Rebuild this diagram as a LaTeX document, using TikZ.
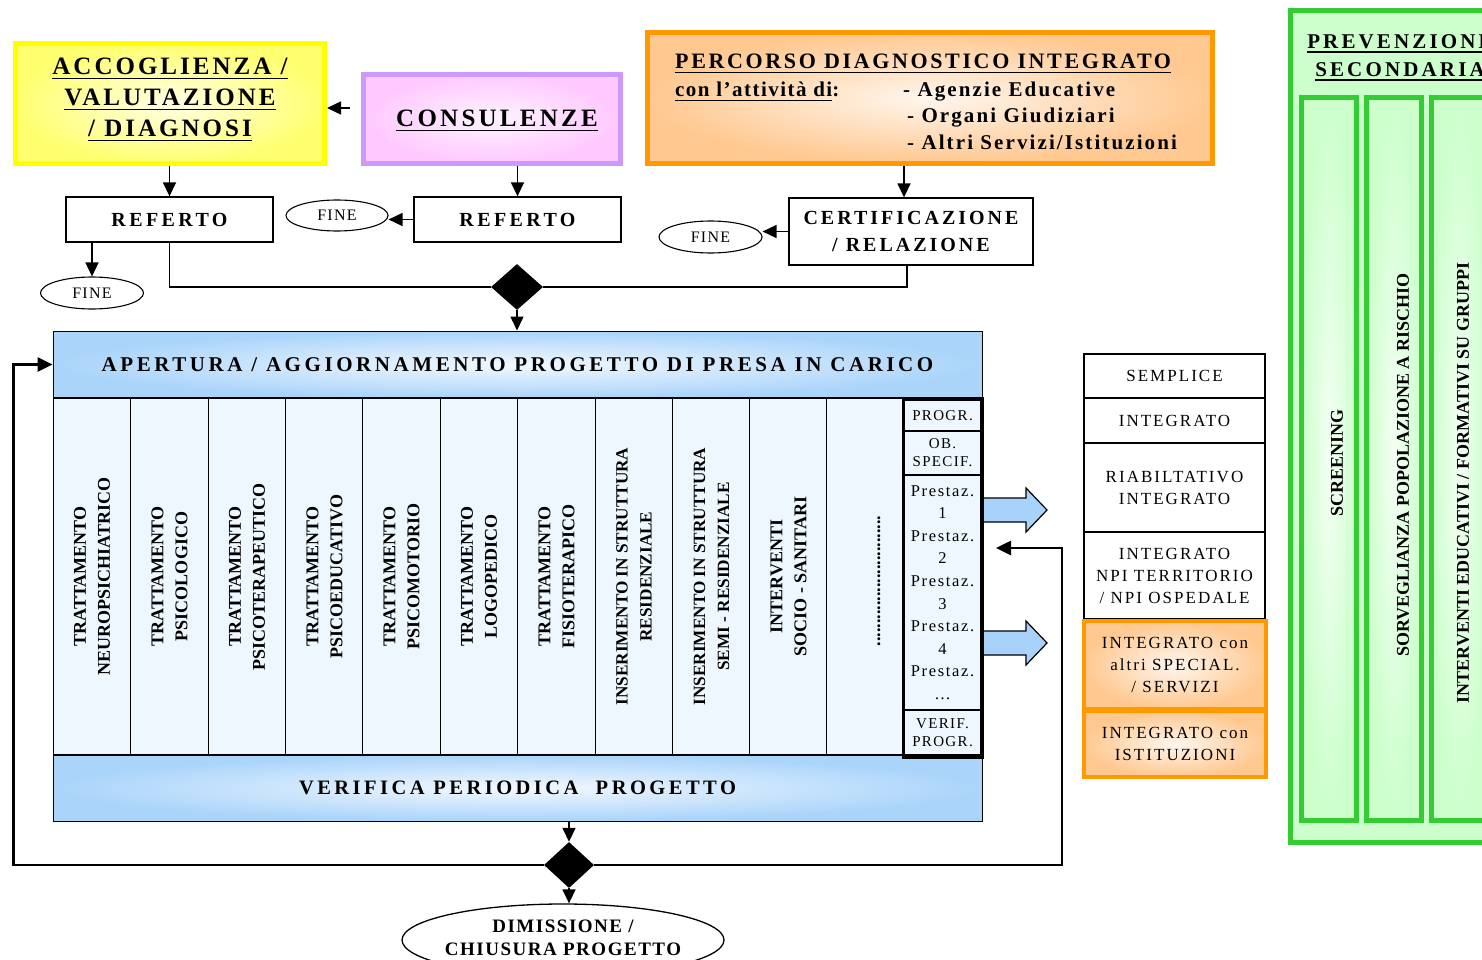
\documentclass[tikz,border=0pt]{standalone}
\usepackage{fontspec}
\setmainfont{Liberation Serif}
\usetikzlibrary{shapes.geometric,arrows.meta}
\definecolor{ybord}{HTML}{FFFF00}
\definecolor{yfill}{HTML}{FFFF70}
\definecolor{yin}{HTML}{FFFFE6}
\definecolor{pbord}{HTML}{CC99FF}
\definecolor{pfill}{HTML}{FFC8FF}
\definecolor{pin}{HTML}{FFF4FF}
\definecolor{obord}{HTML}{FF9900}
\definecolor{ofill}{HTML}{FFC890}
\definecolor{oin}{HTML}{FFF6EE}
\definecolor{gbord}{HTML}{33CC33}
\definecolor{gfill}{HTML}{CCFFCC}
\definecolor{gin}{HTML}{F4FFF4}
\definecolor{bfill}{HTML}{AAD4FA}
\definecolor{hin}{HTML}{F2F8FF}
\definecolor{colfill}{HTML}{EEF6FF}
\definecolor{arrfill}{HTML}{A8D2FA}
\newcommand\ls[1]{\addfontfeatures{LetterSpace=#1}}
\newcommand\fsz[2]{\fontsize{#1}{#2}\selectfont}
\newcommand\uln[1]{\leavevmode\setbox0=\hbox{#1}\rlap{\rule[-0.2em]{\wd0}{0.075em}}\box0}
\begin{document}
\begin{tikzpicture}[x=1pt,y=-1pt,
 arr/.style={-{Triangle[length=14pt,width=13pt]}, line width=1.5pt},
 tarr/.style={-{Triangle[length=15pt,width=14pt]}, line width=2.6pt},
 plain/.style={draw, line width=1.3pt, fill=white, inner sep=0pt, align=center},
 fineell/.style={ellipse, draw, line width=1.1pt, fill=white, inner sep=0pt, minimum width=103pt, minimum height=32pt, font=\fsz{16}{16}\ls{8}},
 dia/.style={diamond, fill=black, inner sep=0pt, minimum width=52pt, minimum height=46pt},
 col/.style={draw, line width=1.2pt, fill=colfill, rotate=90, minimum width=357pt, minimum height=77.5pt, inner sep=0pt, align=center, font=\fsz{18}{24}\bfseries},
 gcol/.style={draw=gbord, line width=5pt, inner color=gin, outer color=gfill, minimum width=55pt, minimum height=723pt, inner sep=0pt},
 gtxt/.style={rotate=90, inner sep=0pt, font=\fsz{18}{24}\bfseries},
 rb/.style={plain, minimum width=181pt, font=\fsz{17}{22}\ls{12}},
 ob/.style={draw=obord, line width=4pt, inner color=oin, outer color=ofill, minimum width=182pt, inner sep=0pt, align=center, font=\fsz{17}{22}\ls{12}},
 cell/.style={draw, line width=1.3pt, fill=colfill, minimum width=77pt, inner sep=0pt, align=center, font=\fsz{15}{18}\ls{9}},
 band/.style={draw, line width=1pt, inner color=hin, outer color=bfill, minimum width=929pt, inner sep=0pt},
 reftxt/.style={plain, font=\fsz{20}{27}\bfseries\ls{17}},
]
\useasboundingbox (0,0) rectangle (1482,960);
\clip (0,0) rectangle (1482,960);
\fill[white] (0,0) rectangle (1482,960);

% ---------- green prevention panel
\node[draw=gbord, line width=5pt, fill=gfill, minimum width=210pt, minimum height=832pt, inner sep=0pt] (prev) at (1395.5,426.5) {};
\node[anchor=base, align=center, inner sep=0pt, font=\fsz{21}{28}\bfseries\ls{15}] (prevt) at (1400,76.5) {\uln{PREVENZIONE}\\\uln{SECONDARIA}};
\node[gcol] (g1) at (1329,459) {};
\node[gcol] (g2) at (1394,459) {};
\node[gcol] (g3) at (1459,459) {};
\node[gtxt] (gt1) at (1337,463) {SCREENING};
\node[gtxt] (gt2) at (1403,465) {SORVEGLIANZA POPOLAZIONE A RISCHIO};
\node[gtxt] (gt3) at (1463,483) {INTERVENTI EDUCATIVI / FORMATIVI SU GRUPPI};

% ---------- top boxes
\node[draw=ybord, line width=5pt, inner color=yin, outer color=yfill, minimum width=309pt, minimum height=120pt, inner sep=0pt] (accog) at (170,103.5) {};
\node[anchor=base, align=center, inner sep=0pt, font=\fsz{25}{31}\bfseries\ls{12}] (accogt) at (170,136.5) {\uln{ACCOGLIENZA /}\\\uln{VALUTAZIONE}\\\uln{/ DIAGNOSI}};

\node[draw=pbord, line width=5pt, inner color=pin, outer color=pfill, minimum width=257pt, minimum height=89pt, inner sep=0pt] (consul) at (492,119) {};
\node[anchor=base, inner sep=0pt, font=\fsz{25}{30}\bfseries\ls{13}] (consult) at (497,126.5) {\uln{CONSULENZE}};

\node[draw=obord, line width=5pt, inner color=oin, outer color=ofill, minimum width=565pt, minimum height=131pt, inner sep=0pt] (perc) at (930,98) {};
\node[anchor=base west, inner sep=0pt, font=\fsz{22}{22}\bfseries\ls{12}] (pt1) at (675,69) {\uln{PERCORSO DIAGNOSTICO INTEGRATO}};
\node[anchor=base west, inner sep=0pt, font=\fsz{21}{21}\bfseries\ls{7}] (pt2) at (675,97) {\uln{con l’attività di}:};
\node[anchor=base west, inner sep=0pt, font=\fsz{21}{21}\bfseries\ls{10}] (pt3) at (903,97) {- Agenzie Educative};
\node[anchor=base west, inner sep=0pt, font=\fsz{21}{21}\bfseries\ls{10}] (pt4) at (907,123) {- Organi Giudiziari};
\node[anchor=base west, inner sep=0pt, font=\fsz{21}{21}\bfseries\ls{10}] (pt5) at (907,150) {- Altri Servizi/Istituzioni};

% ---------- referto row
\node[reftxt, minimum width=207pt, minimum height=45pt] (ref1) at (169.5,219.5) {REFERTO};
\node[reftxt, minimum width=207pt, minimum height=45pt] (ref2) at (517.5,219.5) {REFERTO};
\node[reftxt, minimum width=244pt, minimum height=67pt, font=\fsz{20}{27}\bfseries\ls{15}] (certif) at (911,231.5) {CERTIFICAZIONE\\/ RELAZIONE};
\node[fineell] (fine1) at (92,293) {FINE};
\node[fineell, minimum width=102pt, minimum height=31pt] (fine2) at (337,215.5) {FINE};
\node[fineell] (fine3) at (710.5,237) {FINE};
\node[dia] (d1) at (517,287) {};

% ---------- main project block
\node[draw, line width=1pt, fill=colfill, minimum width=929pt, minimum height=490pt, inner sep=0pt] (main) at (517.5,576) {};
\node[band, minimum height=67pt, font=\fsz{21}{21}\bfseries\ls{17}] (hdr) at (517.5,364.5) {APERTURA / AGGIORNAMENTO PROGETTO DI PRESA IN CARICO};
\node[band, minimum height=66pt, font=\fsz{20.5}{20.5}\bfseries\ls{17}] (ftr) at (517.5,788) {VERIFICA PERIODICA\ \ PROGETTO};

\node[col] (c1) at (92,576.5) {TRATTAMENTO\\NEUROPSICHIATRICO};
\node[col] (c2) at (169.5,576.5) {TRATTAMENTO\\PSICOLOGICO};
\node[col] (c3) at (247,576.5) {TRATTAMENTO\\PSICOTERAPEUTICO};
\node[col] (c4) at (324.5,576.5) {TRATTAMENTO\\PSICOEDUCATIVO};
\node[col] (c5) at (401.5,576.5) {TRATTAMENTO\\PSICOMOTORIO};
\node[col] (c6) at (479,576.5) {TRATTAMENTO\\LOGOPEDICO};
\node[col] (c7) at (556.5,576.5) {TRATTAMENTO\\FISIOTERAPICO};
\node[col, font=\fsz{17.2}{24}\bfseries] (c8) at (634,576.5) {INSERIMENTO IN STRUTTURA\\RESIDENZIALE};
\node[col, font=\fsz{17.2}{24}\bfseries] (c9) at (711.5,576.5) {INSERIMENTO IN STRUTTURA\\SEMI - RESIDENZIALE};
\node[col] (c10) at (788.5,576.5) {INTERVENTI\\SOCIO - SANITARI};
\node[col] (c11) at (865,576.5) {};
\node[rotate=90, inner sep=0pt, font=\fsz{18}{24}\bfseries] (dots) at (879,581) {.............................};

% right panel of the block
\node[cell, minimum height=31pt] (progr) at (942.5,415.5) {PROGR.};
\node[cell, minimum height=44pt] (obsp) at (942.5,453) {OB.\\SPECIF.};
\node[cell, minimum height=235pt, font=\fsz{16.5}{22.6}\ls{10}] (prest) at (942.5,592.5) {Prestaz.\\1\\Prestaz.\\2\\Prestaz.\\3\\Prestaz.\\4\\Prestaz.\\…};
\node[cell, minimum height=45pt] (verif) at (942.5,732.5) {VERIF.\\PROGR.};
\node[draw, line width=3pt, minimum width=79pt, minimum height=359pt, inner sep=0pt] (panel) at (942.5,577.5) {};

% block arrows
\draw[line width=1.2pt, fill=arrfill] (984,498) -- (1026,498) -- (1026,488) -- (1047,510) -- (1026,532) -- (1026,522) -- (984,522);
\draw[line width=1.2pt, fill=arrfill] (984,631) -- (1026,631) -- (1026,621) -- (1047,643) -- (1026,665) -- (1026,655) -- (984,655);

% ---------- right list
\node[rb, minimum height=44pt] (semp) at (1174.5,376) {SEMPLICE};
\node[rb, minimum height=45pt] (integ) at (1174.5,420.5) {INTEGRATO};
\node[rb, minimum height=89pt] (riab) at (1174.5,487.5) {RIABILTATIVO\\INTEGRATO};
\node[rb, minimum height=87pt] (npi) at (1174.5,575.5) {INTEGRATO\\NPI TERRITORIO\\/ NPI OSPEDALE};
\node[ob, minimum height=88pt] (or1) at (1175,665) {INTEGRATO con\\altri SPECIAL.\\/ SERVIZI};
\node[ob, minimum height=66pt] (or2) at (1175,744) {INTEGRATO con\\ISTITUZIONI};

% ---------- bottom
\node[dia, minimum width=50pt] (d2) at (569,865) {};
\node[ellipse, draw, line width=1.3pt, fill=white, minimum width=322pt, minimum height=72pt, inner sep=0pt] (dim) at (563,940) {};
\node[align=center, inner sep=0pt, font=\fsz{19}{23}\bfseries\ls{8}] (dimt) at (563,937.5) {DIMISSIONE /\\CHIUSURA PROGETTO};

% ---------- connectors
\draw[arr] ([xshift=-11pt,yshift=-4.5pt]consul.west |- accog.east) -- ([yshift=-4.5pt]accog.east);
\draw[arr] (accog.south -| ref1.north) -- (ref1.north);
\draw[arr] (consul.south -| ref2.north) -- (ref2.north);
\draw[arr] (ref2.west) -- (ref2.west -| fine2.east);
\draw[arr] ([xshift=-7pt]certif.north |- perc.south) -- ([xshift=-7pt]certif.north);
\draw[arr] (certif.west) -- (certif.west -| fine3.east);
\draw[arr] (ref1.south -| fine1.north) -- (fine1.north);
\draw[line width=1.5pt] (ref1.south) |- (d1.west);
\draw[line width=1.5pt] ([xshift=-4pt]certif.south) |- (d1.east);
\draw[arr] (d1.south) -- (d1.south |- hdr.north);
\draw[arr] (d2.north |- ftr.south) -- (d2.north);
\draw[arr] (d2.south) -- (d2.south |- dim.north);
\draw[tarr] (d2.west) -| ([xshift=-39pt]hdr.west) -- (hdr.west);
\coordinate (rl) at (996,548);
\draw[tarr] (d2.east) -| ([xshift=66pt]rl) -- (rl);
\end{tikzpicture}
\end{document}
